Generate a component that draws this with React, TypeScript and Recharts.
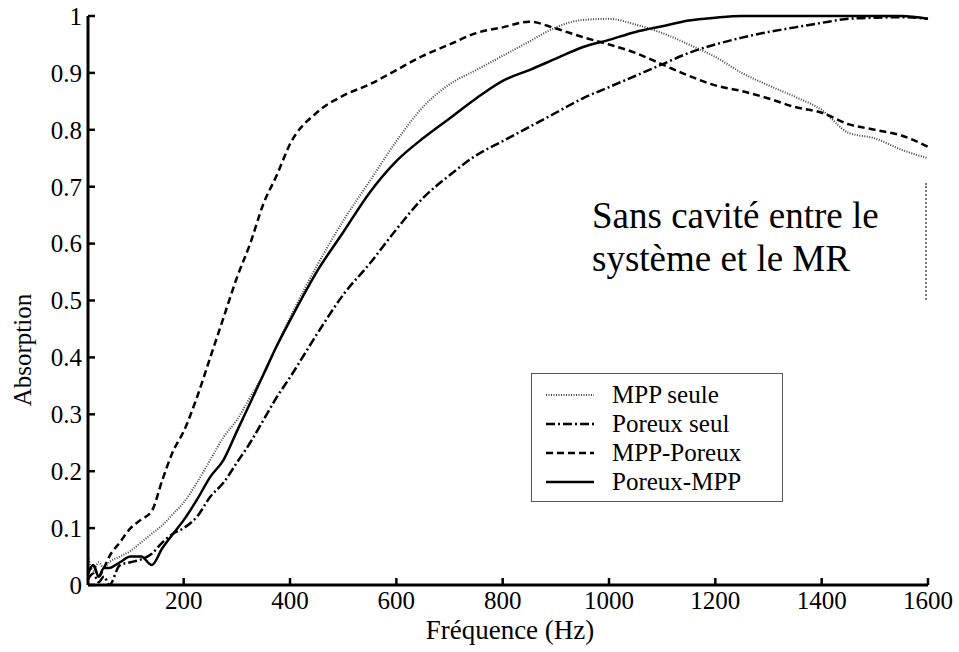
import React from 'react';
import { LineChart, Line, XAxis, YAxis } from 'recharts';

// fréquence (Hz)
const freq = [
  20, 30, 40, 50, 60, 80, 100, 120, 140, 160, 180, 200, 225, 250, 275, 300, 325, 350, 375, 400, 450, 500,
  550, 600, 650, 700, 750, 800, 850, 900, 950, 1000, 1050, 1100, 1150, 1200, 1250, 1300, 1350, 1400,
  1450, 1500, 1550, 1600,
];

const mppSeule = [
  0.05, 0.025, 0.04, 0.03, 0.04, 0.05, 0.06, 0.075, 0.09, 0.105, 0.125, 0.145, 0.18, 0.22, 0.26, 0.29, 0.33, 0.37,
  0.42, 0.47, 0.56, 0.64, 0.71, 0.78, 0.84, 0.88, 0.905, 0.93, 0.955, 0.98, 0.993, 0.995, 0.985, 0.97,
  0.95, 0.928, 0.9, 0.878, 0.858, 0.835, 0.795, 0.785, 0.765, 0.75,
];

const poreuxSeul = [
  0.01, 0.02, 0.005, 0.015, 0.0, 0.035, 0.04, 0.045, 0.055, 0.075, 0.09, 0.1, 0.12, 0.155, 0.18, 0.215, 0.25, 0.29,
  0.33, 0.365, 0.44, 0.51, 0.565, 0.625, 0.68, 0.72, 0.755, 0.78, 0.805, 0.83, 0.855, 0.875, 0.895,
  0.915, 0.935, 0.95, 0.962, 0.972, 0.98, 0.988, 0.995, 0.997, 0.998, 0.995,
];

const mppPoreux = [
  0.02, 0.035, 0.015, 0.03, 0.05, 0.075, 0.1, 0.115, 0.13, 0.185, 0.235, 0.27, 0.33, 0.4, 0.47, 0.54, 0.6, 0.67,
  0.72, 0.775, 0.83, 0.86, 0.88, 0.905, 0.93, 0.95, 0.97, 0.98, 0.99, 0.978, 0.963, 0.95, 0.935, 0.915,
  0.895, 0.878, 0.868, 0.855, 0.84, 0.83, 0.81, 0.8, 0.79, 0.77,
];

const poreuxMpp = [
  0.02, 0.035, 0.015, 0.03, 0.03, 0.04, 0.05, 0.05, 0.035, 0.065, 0.09, 0.114, 0.15, 0.19, 0.22, 0.27, 0.32, 0.37,
  0.42, 0.465, 0.55, 0.62, 0.69, 0.745, 0.785, 0.82, 0.855, 0.886, 0.905, 0.925, 0.945, 0.958, 0.972,
  0.982, 0.992, 0.997, 1.0, 1.0, 1.0, 1.0, 1.0, 1.0, 1.0, 0.995,
];

const xTicks = [200, 400, 600, 800, 1000, 1200, 1400, 1600];
const yTicks = [0, 0.1, 0.2, 0.3, 0.4, 0.5, 0.6, 0.7, 0.8, 0.9, 1];

const series = [
  { key: 'mppSeule', name: 'MPP seule', color: '#444', width: 2, dash: '1 1.5' },
  { key: 'poreuxSeul', name: 'Poreux seul', color: '#000', width: 2.5, dash: '9 3 2 3' },
  { key: 'mppPoreux', name: 'MPP-Poreux', color: '#000', width: 2.5, dash: '7 4' },
  { key: 'poreuxMpp', name: 'Poreux-MPP', color: '#000', width: 2.5, dash: undefined },
];

const data = freq.map((f, i) => ({
  f,
  mppSeule: mppSeule[i],
  poreuxSeul: poreuxSeul[i],
  mppPoreux: mppPoreux[i],
  poreuxMpp: poreuxMpp[i],
}));

const FONT = '"Liberation Serif", "DejaVu Serif", Tinos, "Times New Roman", Times, serif';
const tickStyle = { fill: '#000', fontSize: 25, fontFamily: FONT };
const axisLine = { stroke: '#000', strokeWidth: 3 };
const tickLine = { stroke: '#000', strokeWidth: 2.5 };

const App: React.FC = () => {
  return (
    <div style={{ position: 'absolute', left: 0, top: 0, width: 959, height: 652, background: '#fff', fontFamily: FONT }}>
      <LineChart width={959} height={652} data={data} margin={{ top: 16, right: 31, left: 0, bottom: 0 }}>
        <XAxis
          dataKey="f"
          type="number"
          domain={[20, 1600]}
          ticks={xTicks}
          height={67}
          tickSize={-7}
          tickMargin={13}
          axisLine={axisLine}
          tickLine={tickLine}
          tick={tickStyle}
          label={{
            content: () => (
              <text x={510} y={630} textAnchor="middle" dominantBaseline="central" fill="#000" fontSize={27} fontFamily={FONT}>
                Fréquence (Hz)
              </text>
            ),
          }}
        />
        <XAxis
          xAxisId="top"
          orientation="top"
          dataKey="f"
          type="number"
          domain={[20, 1600]}
          ticks={xTicks}
          height={0}
          tickSize={-7}
          axisLine={axisLine}
          tickLine={tickLine}
          tick={false}
        />
        <YAxis
          type="number"
          domain={[0, 1]}
          ticks={yTicks}
          width={88}
          tickSize={-7}
          tickMargin={13}
          axisLine={axisLine}
          tickLine={tickLine}
          tick={tickStyle}
          label={{
            content: () => (
              <text x={22} y={350} transform="rotate(-90, 22, 350)" textAnchor="middle" dominantBaseline="central" fill="#000" fontSize={25} fontFamily={FONT}>
                Absorption
              </text>
            ),
          }}
        />
        <YAxis
          yAxisId="right"
          orientation="right"
          type="number"
          domain={[0, 1]}
          ticks={yTicks}
          width={0}
          tickSize={-7}
          axisLine={axisLine}
          tickLine={tickLine}
          tick={false}
        />
        {series.map((s) => (
          <Line
            key={s.key}
            type="monotone"
            dataKey={s.key}
            name={s.name}
            stroke={s.color}
            strokeWidth={s.width}
            strokeDasharray={s.dash}
            dot={false}
            isAnimationActive={false}
          />
        ))}
      </LineChart>

      {/* annotation box covering the right frame */}
      <div
        style={{
          position: 'absolute',
          left: 585,
          top: 183,
          width: 342,
          height: 117,
          background: '#fff',
          borderRight: '2px dotted #777',
          fontFamily: FONT,
          fontSize: 37,
          lineHeight: '43px',
          color: '#000',
          paddingLeft: 7,
          paddingTop: 11,
          boxSizing: 'border-box',
        }}
      >
        Sans cavité entre le
        <br />
        système et le MR
      </div>

      {/* legend */}
      <div
        style={{
          position: 'absolute',
          left: 531,
          top: 373,
          width: 252,
          height: 129,
          border: '1.5px solid #555',
          background: '#fff',
          boxSizing: 'border-box',
          padding: '6px 0 0 14px',
          fontFamily: FONT,
          fontSize: 25,
          color: '#000',
        }}
      >
        {series.map((s) => (
          <div key={s.key} style={{ display: 'flex', alignItems: 'center', height: 29 }}>
            <svg width={48} height={10} style={{ marginRight: 18 }}>
              <line x1={0} y1={5} x2={48} y2={5} stroke={s.color} strokeWidth={s.width} strokeDasharray={s.dash} />
            </svg>
            <span>{s.name}</span>
          </div>
        ))}
      </div>
    </div>
  );
};

export default App;
